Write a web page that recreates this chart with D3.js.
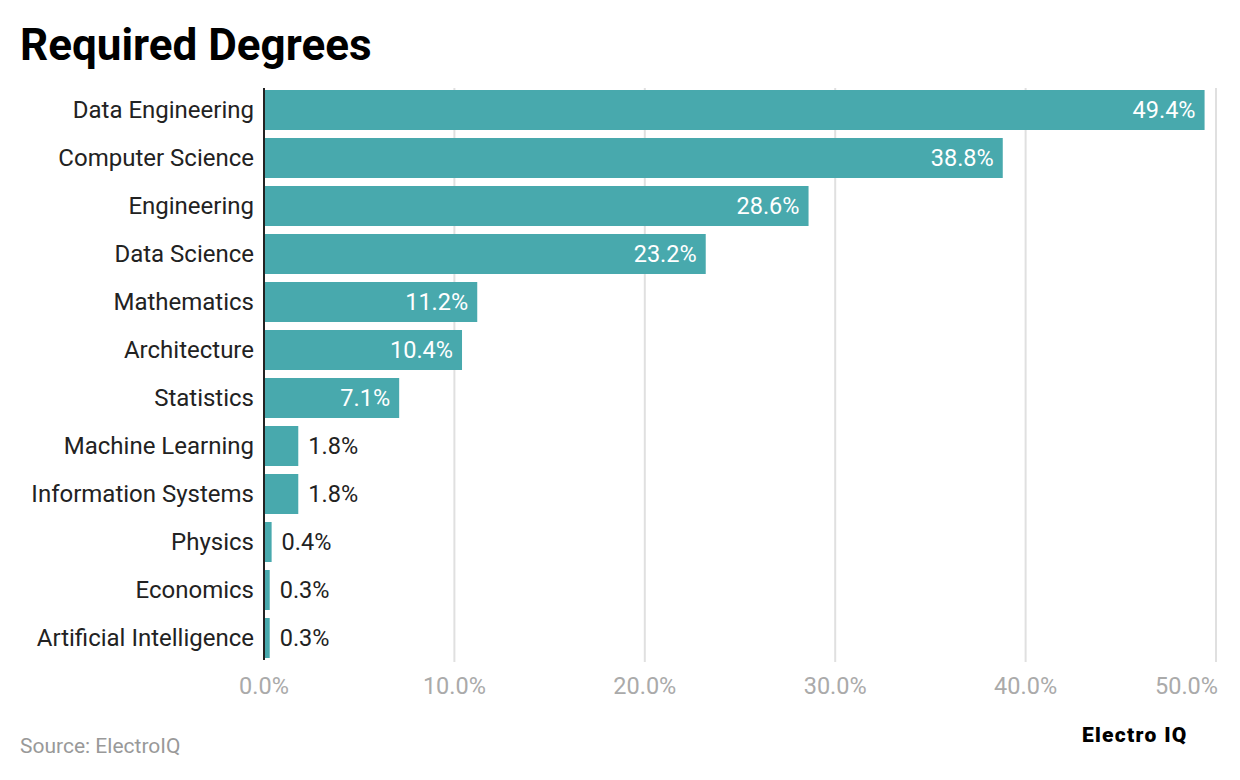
<!DOCTYPE html>
<html><head><meta charset="utf-8">
<script src="https://cdn.jsdelivr.net/npm/d3@7"></script>
<style>body{margin:0;background:#fff}svg{font-family:Roboto,sans-serif}</style>
</head><body><svg width="1240" height="780"></svg>
<script>
const categories=["Data Engineering","Computer Science","Engineering","Data Science","Mathematics","Architecture","Statistics","Machine Learning","Information Systems","Physics","Economics","Artificial Intelligence"];
const values=[49.4,38.8,28.6,23.2,11.2,10.4,7.1,1.8,1.8,0.4,0.3,0.3];
const ticks=[0,10,20,30,40,50];
const svg=d3.select("svg");
const x=d3.scaleLinear().domain([0,50]).range([264,1216]);
const y=d3.scaleBand().domain(categories).range([86,662]).paddingInner(0.1667).paddingOuter(0.0833);
svg.append("text").attr("x",20).attr("y",60).attr("font-size",44).attr("font-weight",700).attr("fill","#000").text("Required Degrees");
svg.selectAll(".g").data(ticks.slice(1)).enter().append("line").attr("x1",d=>x(d)).attr("x2",d=>x(d)).attr("y1",88).attr("y2",662).attr("stroke","#e0e0e0").attr("stroke-width",2);
svg.selectAll(".t").data(ticks).enter().append("text").attr("x",(d,i)=>i==ticks.length-1?x(d)+2:x(d)).attr("y",694).attr("text-anchor",(d,i)=>i==ticks.length-1?"end":"middle").attr("font-size",23.5).attr("fill","#aaaaaa").text(d=>d.toFixed(1)+"%");
svg.selectAll(".b").data(values).enter().append("rect").attr("x",x(0)).attr("y",(d,i)=>y(categories[i])).attr("width",d=>x(d)-x(0)).attr("height",y.bandwidth()).attr("fill","#48a9ad");
svg.selectAll(".v").data(values).enter().append("text").attr("y",(d,i)=>y(categories[i])+y.bandwidth()/2+8).attr("font-size",23.5)
 .attr("x",d=>d>5?x(d)-9:x(d)+10).attr("text-anchor",d=>d>5?"end":"start").attr("fill",d=>d>5?"#fff":"#222").text(d=>d.toFixed(1)+"%");
svg.selectAll(".c").data(categories).enter().append("text").attr("x",254).attr("y",d=>y(d)+y.bandwidth()/2+8).attr("text-anchor","end").attr("font-size",24).attr("fill","#222").text(d=>d);
svg.append("line").attr("x1",x(0)).attr("x2",x(0)).attr("y1",88).attr("y2",660).attr("stroke","#222").attr("stroke-width",2);
svg.append("text").attr("x",20).attr("y",753).attr("font-size",21).attr("fill","#999").text("Source: ElectroIQ");
svg.append("text").attr("x",1082).attr("y",742).attr("font-size",21).attr("font-weight",900).attr("fill","#000").attr("letter-spacing",1.3).text("Electro IQ");
</script></body></html>
